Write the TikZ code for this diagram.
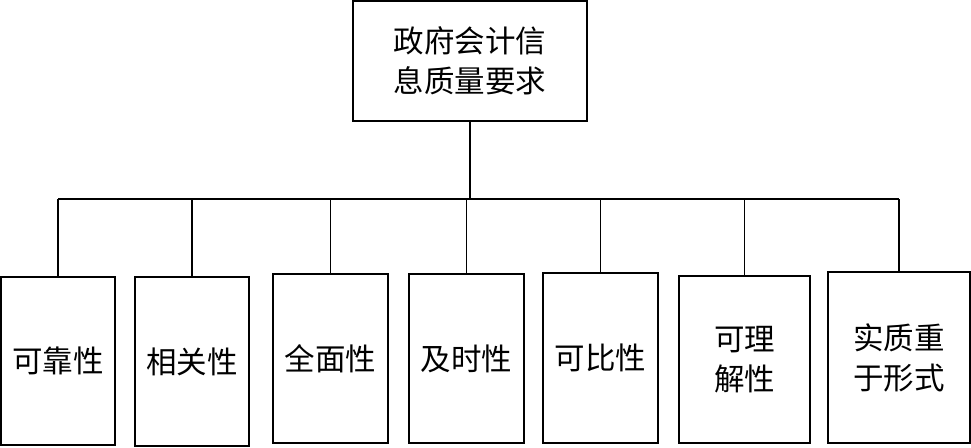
\documentclass[tikz,border=0pt]{standalone}
\usepackage{fontspec}
\newfontfamily\cjk{Noto Sans CJK SC}
\usepackage{tikz}

\begin{document}
\begin{tikzpicture}[x=1pt,y=-1pt,
    box/.style={draw,line width=1.4pt,align=center,inner sep=0pt,
      font=\cjk\fontsize{30.5}{40}\selectfont}]
      \useasboundingbox (0,0) rectangle (971,447);
      \node (top) at (470,61) [box,minimum width=234pt,minimum height=120pt] {政府会计信\\息质量要求};
      \node (b1) at (58,361) [box,minimum width=114pt,minimum height=168pt] {可靠性};
      \node (b2) at (192,361.5) [box,minimum width=114pt,minimum height=169pt] {相关性};
      \node (b3) at (330.5,358.5) [box,minimum width=115pt,minimum height=169pt] {全面性};
      \node (b4) at (466.5,358.5) [box,minimum width=115pt,minimum height=169pt] {及时性};
      \node (b5) at (600.5,358) [box,minimum width=115pt,minimum height=170pt] {可比性};
      \node (b6) at (744.5,359.5) [box,minimum width=131pt,minimum height=167pt] {可理\\解性};
      \node (b7) at (899,357.5) [box,minimum width=142pt,minimum height=171pt] {实质重\\于形式};
      \coordinate (bus) at (470,199);
      \draw [line width=1.3pt] (top.south) -- (bus);
      \draw [line width=1.3pt] (b1.north |- bus) -- (b7.north |- bus);
      \foreach \b in {b1,b2,b3,b4,b5,b6,b7}
        \draw [line width=1.3pt] (\b.north) -- (\b.north |- bus);
    \end{tikzpicture}
\end{document}
